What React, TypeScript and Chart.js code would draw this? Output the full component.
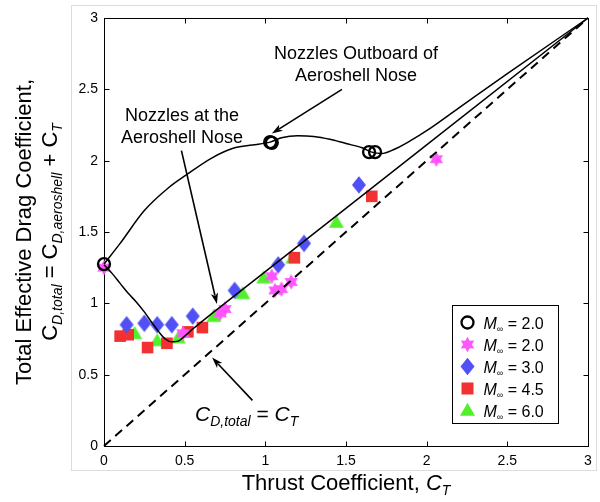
import React, { useEffect, useRef } from "react";
import { Chart, registerables } from "chart.js";

Chart.register(...registerables);

const FONT = "Arial, 'Liberation Sans', Helvetica, sans-serif";

// ---------------- data ----------------
const tickValues = [0, 0.5, 1, 1.5, 2, 2.5, 3];

// M = 2.0, nozzles outboard (open black circles)
const circleX = [0, 1.03, 1.04, 1.643, 1.68];
const circleY = [1.275, 2.13, 2.125, 2.06, 2.06];
// M = 2.0 (magenta hexagrams)
const starX = [0, 0.49, 0.72, 0.75, 1.04, 1.06, 1.1, 1.16, 2.06];
const starY = [1.25, 0.79, 0.93, 0.96, 1.19, 1.09, 1.1, 1.15, 2.01];
// M = 3.0 (blue diamonds)
const diamondX = [0.14, 0.25, 0.33, 0.42, 0.55, 0.81, 1.08, 1.24, 1.58];
const diamondY = [0.85, 0.86, 0.85, 0.85, 0.91, 1.09, 1.27, 1.42, 1.83];
// M = 4.5 (red squares)
const squareX = [0.1, 0.15, 0.27, 0.39, 0.52, 0.61, 1.18, 1.66];
const squareY = [0.77, 0.78, 0.69, 0.72, 0.8, 0.83, 1.32, 1.75];
// M = 6.0 (green triangles)
const triangleX = [0.19, 0.33, 0.46, 0.68, 0.86, 0.99, 1.17, 1.44];
const triangleY = [0.79, 0.74, 0.76, 0.91, 1.07, 1.18, 1.32, 1.57];

// curve: nozzles outboard of aeroshell nose
const outboardX = [0, 0.1, 0.25, 0.4, 0.51, 0.67, 0.81, 0.92, 1.03, 1.1, 1.2, 1.3, 1.4, 1.5, 1.6, 1.66, 1.72, 1.8, 1.9, 2.0, 2.2, 2.5, 3.0];
const outboardY = [1.275, 1.42, 1.65, 1.81, 1.9, 2.02, 2.09, 2.11, 2.13, 2.16, 2.175, 2.17, 2.15, 2.12, 2.09, 2.06, 2.05, 2.08, 2.14, 2.21, 2.37, 2.61, 3.0];
// curve: nozzles at the aeroshell nose
const noseX = [0, 0.05, 0.1, 0.15, 0.2, 0.25, 0.3, 0.34, 0.38, 0.42, 0.46, 0.5, 0.55, 0.6, 1.0, 2.0, 3.0];
const noseY = [1.27, 1.21, 1.14, 1.07, 1.01, 0.94, 0.86, 0.8, 0.75, 0.73, 0.735, 0.77, 0.82, 0.866, 1.222, 2.111, 3.0];
// C_D,total = C_T
const diagX = [0, 3];
const diagY = [0, 3];

const legendLabels = ["= 2.0", "= 2.0", "= 3.0", "= 4.5", "= 6.0"];

// annotations (data coordinates)
const noteOutboardLines = ["Nozzles Outboard of", "Aeroshell Nose"];
const noteOutboardPos = { x: 1.562, y: [2.713, 2.558] };
const noteNoseLines = ["Nozzles at the", "Aeroshell Nose"];
const noteNosePos = { x: 0.483, y: [2.278, 2.124] };
const noteCtPos = { x: 0.564, y: 0.175 };
const arrowOutboard = [[1.475, 2.5], [1.04, 2.19]];
const arrowNose = [[0.48, 2.07], [0.7, 0.995]];
const arrowCt = [[0.92, 0.32], [0.67, 0.62]];

// colours
const MAGENTA = "#ff55ff";
const BLUE = "#5050f5";
const RED = "#f23232";
const GREEN = "#52f02a";

const pts = (xs: number[], ys: number[]) => xs.map((x, i) => ({ x, y: ys[i] }));

type Seg = { t: string; size: number; italic?: boolean; dy?: number };
const fontOf = (s: Seg) => `${s.italic ? "italic " : ""}${s.size}px ${FONT}`;
function richWidth(ctx: CanvasRenderingContext2D, segs: Seg[]) {
  let w = 0;
  for (const s of segs) {
    ctx.font = fontOf(s);
    w += ctx.measureText(s.t).width;
  }
  return w;
}
function drawRich(ctx: CanvasRenderingContext2D, segs: Seg[], x: number, y: number) {
  ctx.textAlign = "left";
  ctx.textBaseline = "alphabetic";
  let cx = x;
  for (const s of segs) {
    ctx.font = fontOf(s);
    ctx.fillText(s.t, cx, y + (s.dy || 0));
    cx += ctx.measureText(s.t).width;
  }
}

function hexagramPath(g: CanvasRenderingContext2D, cx: number, cy: number, R: number) {
  const r = R * 0.56;
  g.beginPath();
  for (let i = 0; i < 12; i++) {
    const a = -Math.PI / 2 + (i * Math.PI) / 6;
    const rad = i % 2 === 0 ? R : r;
    const px = cx + Math.cos(a) * rad;
    const py = cy + Math.sin(a) * rad;
    if (i === 0) g.moveTo(px, py);
    else g.lineTo(px, py);
  }
  g.closePath();
}
function diamondPath(g: CanvasRenderingContext2D, cx: number, cy: number, hw: number, hh: number) {
  g.beginPath();
  g.moveTo(cx, cy - hh);
  g.lineTo(cx + hw, cy);
  g.lineTo(cx, cy + hh);
  g.lineTo(cx - hw, cy);
  g.closePath();
}
function trianglePath(g: CanvasRenderingContext2D, cx: number, cy: number, hw: number, h: number) {
  g.beginPath();
  g.moveTo(cx, cy - h * 0.6);
  g.lineTo(cx + hw, cy + h * 0.4);
  g.lineTo(cx - hw, cy + h * 0.4);
  g.closePath();
}
function makeMarker(w: number, h: number, draw: (g: CanvasRenderingContext2D) => void) {
  const c = document.createElement("canvas");
  c.width = w;
  c.height = h;
  const g = c.getContext("2d")!;
  draw(g);
  return c;
}

function drawArrow(ctx: CanvasRenderingContext2D, x1: number, y1: number, x2: number, y2: number) {
  const ang = Math.atan2(y2 - y1, x2 - x1);
  const len = 11;
  const hw = 3.6;
  ctx.save();
  ctx.strokeStyle = "#000";
  ctx.fillStyle = "#000";
  ctx.lineWidth = 1.6;
  ctx.beginPath();
  ctx.moveTo(x1, y1);
  ctx.lineTo(x2 - Math.cos(ang) * len * 0.8, y2 - Math.sin(ang) * len * 0.8);
  ctx.stroke();
  ctx.beginPath();
  ctx.moveTo(x2, y2);
  ctx.lineTo(x2 - Math.cos(ang) * len - Math.sin(ang) * hw, y2 - Math.sin(ang) * len + Math.cos(ang) * hw);
  ctx.lineTo(x2 - Math.cos(ang) * len * 0.75, y2 - Math.sin(ang) * len * 0.75);
  ctx.lineTo(x2 - Math.cos(ang) * len + Math.sin(ang) * hw, y2 - Math.sin(ang) * len - Math.cos(ang) * hw);
  ctx.closePath();
  ctx.fill();
  ctx.restore();
}

const decor = {
  id: "decor",
  beforeDraw(chart: any) {
    const ctx: CanvasRenderingContext2D = chart.ctx;
    ctx.save();
    ctx.fillStyle = "#fff";
    ctx.fillRect(0, 0, chart.width, chart.height);
    ctx.strokeStyle = "#dcdcdc";
    ctx.lineWidth = 1;
    ctx.strokeRect(71.5, 5.5, 525, 465);
    ctx.restore();
  },
  beforeDatasetsDraw(chart: any) {
    const ctx: CanvasRenderingContext2D = chart.ctx;
    const { left, right, top, bottom } = chart.chartArea;
    const xs = chart.scales.x;
    const ys = chart.scales.y;
    ctx.save();
    ctx.strokeStyle = "#000";
    ctx.lineWidth = 1;
    const L = Math.round(left) + 0.5;
    const R = Math.round(right) + 0.5;
    const T = Math.round(top) + 0.5;
    const B = Math.round(bottom) + 0.5;
    ctx.strokeRect(L, T, R - L, B - T);
    ctx.beginPath();
    for (const v of tickValues) {
      const px = Math.round(xs.getPixelForValue(v)) + 0.5;
      ctx.moveTo(px, B);
      ctx.lineTo(px, B - 5);
      ctx.moveTo(px, T);
      ctx.lineTo(px, T + 5);
      const py = Math.round(ys.getPixelForValue(v)) + 0.5;
      ctx.moveTo(L, py);
      ctx.lineTo(L + 5, py);
      ctx.moveTo(R, py);
      ctx.lineTo(R - 5, py);
    }
    ctx.stroke();
    ctx.restore();
  },
  afterDraw(chart: any) {
    const ctx: CanvasRenderingContext2D = chart.ctx;
    const { left, right, top, bottom } = chart.chartArea;
    const xs = chart.scales.x;
    const ys = chart.scales.y;
    const X = (v: number) => xs.getPixelForValue(v);
    const Y = (v: number) => ys.getPixelForValue(v);
    ctx.save();
    ctx.fillStyle = "#000";

    // x axis title
    const xt: Seg[] = [
      { t: "Thrust Coefficient, ", size: 22 },
      { t: "C", size: 22, italic: true },
      { t: "T", size: 14, italic: true, dy: 5 },
    ];
    const xtw = richWidth(ctx, xt);
    drawRich(ctx, xt, (left + right) / 2 - xtw / 2, 490);

    // y axis title (two lines, rotated)
    const cy = (top + bottom) / 2;
    const y1: Seg[] = [{ t: "Total Effective Drag Coefficient,", size: 22 }];
    const y2: Seg[] = [
      { t: "C", size: 22 },
      { t: "D,total", size: 14, italic: true, dy: 5 },
      { t: " = C", size: 22 },
      { t: "D,aeroshell", size: 14, italic: true, dy: 5 },
      { t: " + C", size: 22 },
      { t: "T", size: 14, italic: true, dy: 5 },
    ];
    for (const [segs, bx] of [[y1, 31], [y2, 57]] as [Seg[], number][]) {
      const w = richWidth(ctx, segs);
      ctx.save();
      ctx.translate(bx, cy);
      ctx.rotate(-Math.PI / 2);
      drawRich(ctx, segs, -w / 2, 0);
      ctx.restore();
    }

    // annotations
    ctx.font = `18px ${FONT}`;
    ctx.textAlign = "center";
    ctx.textBaseline = "alphabetic";
    noteOutboardLines.forEach((t, i) => ctx.fillText(t, X(noteOutboardPos.x), Y(noteOutboardPos.y[i])));
    noteNoseLines.forEach((t, i) => ctx.fillText(t, X(noteNosePos.x), Y(noteNosePos.y[i])));
    const ct: Seg[] = [
      { t: "C", size: 21, italic: true },
      { t: "D,total", size: 14, italic: true, dy: 5 },
      { t: " = ", size: 21 },
      { t: "C", size: 21, italic: true },
      { t: "T", size: 14, italic: true, dy: 5 },
    ];
    drawRich(ctx, ct, X(noteCtPos.x), Y(noteCtPos.y));
    for (const a of [arrowOutboard, arrowNose, arrowCt]) {
      drawArrow(ctx, X(a[0][0]), Y(a[0][1]), X(a[1][0]), Y(a[1][1]));
    }

    // legend
    const bw = 106;
    const bh = 118;
    const bx = Math.round(right) - 30 - bw + 0.5;
    const by = Math.round(bottom) - 23 - bh + 0.5;
    ctx.fillStyle = "#fff";
    ctx.fillRect(bx, by, bw, bh);
    ctx.strokeStyle = "#000";
    ctx.lineWidth = 1;
    ctx.strokeRect(bx, by, bw, bh);
    const rowH = 22;
    for (let i = 0; i < 5; i++) {
      const my = by + 17 + i * rowH;
      const mx = bx + 15;
      ctx.save();
      if (i === 0) {
        ctx.strokeStyle = "#000";
        ctx.lineWidth = 2.3;
        ctx.beginPath();
        ctx.arc(mx, my, 6, 0, Math.PI * 2);
        ctx.stroke();
      } else if (i === 1) {
        ctx.fillStyle = MAGENTA;
        hexagramPath(ctx, mx, my, 7.8);
        ctx.fill();
      } else if (i === 2) {
        ctx.fillStyle = BLUE;
        diamondPath(ctx, mx, my, 7, 8.8);
        ctx.fill();
      } else if (i === 3) {
        ctx.fillStyle = RED;
        ctx.fillRect(mx - 6, my - 6, 12, 12);
      } else {
        ctx.fillStyle = GREEN;
        trianglePath(ctx, mx, my, 7.5, 13);
        ctx.fill();
      }
      ctx.restore();
      ctx.fillStyle = "#000";
      drawRich(
        ctx,
        [
          { t: "M", size: 16, italic: true },
          { t: "\u221e", size: 9, dy: 3 },
          { t: " " + legendLabels[i], size: 16 },
        ],
        bx + 31,
        my + 6
      );
    }
    ctx.restore();
  },
};

export default function App() {
  const ref = useRef<HTMLCanvasElement>(null);
  useEffect(() => {
    const canvas = ref.current!;
    const star = makeMarker(18, 18, (g) => {
      g.fillStyle = MAGENTA;
      hexagramPath(g, 9, 9, 7.8);
      g.fill();
    });
    const diamond = makeMarker(16, 20, (g) => {
      g.fillStyle = BLUE;
      diamondPath(g, 8, 10, 7, 8.8);
      g.fill();
    });
    const triangle = makeMarker(16, 16, (g) => {
      g.fillStyle = GREEN;
      trianglePath(g, 8, 8.5, 7.5, 13);
      g.fill();
    });
    const tickFont = { size: 14, family: FONT };
    const fmt = (v: any) => String(Number(v));
    const chart = new Chart(canvas, {
      type: "scatter",
      data: {
        datasets: [
          {
            label: "outboard",
            data: pts(outboardX, outboardY),
            showLine: true,
            borderColor: "#000",
            borderWidth: 1.5,
            pointRadius: 0,
            cubicInterpolationMode: "monotone",
            clip: false,
          } as any,
          {
            label: "nose",
            data: pts(noseX, noseY),
            showLine: true,
            borderColor: "#000",
            borderWidth: 1.5,
            pointRadius: 0,
            cubicInterpolationMode: "monotone",
            clip: false,
          } as any,
          {
            label: "diag",
            data: pts(diagX, diagY),
            showLine: true,
            borderColor: "#000",
            borderWidth: 2,
            borderDash: [9, 6],
            pointRadius: 0,
            clip: false,
          } as any,
          {
            label: "M2 circles",
            data: pts(circleX, circleY),
            pointStyle: "circle",
            pointRadius: 6,
            borderColor: "#000",
            borderWidth: 2.3,
            backgroundColor: "rgba(0,0,0,0)",
            clip: false,
          } as any,
          {
            label: "M2 stars",
            data: pts(starX, starY),
            pointStyle: star,
            pointRadius: 8,
            clip: false,
          } as any,
          {
            label: "M3",
            data: pts(diamondX, diamondY),
            pointStyle: diamond,
            pointRadius: 8,
            clip: false,
          } as any,
          {
            label: "M4.5",
            data: pts(squareX, squareY),
            pointStyle: "rect",
            pointRadius: 8.2,
            backgroundColor: RED,
            borderWidth: 0,
            clip: false,
          } as any,
          {
            label: "M6",
            data: pts(triangleX, triangleY),
            pointStyle: triangle,
            pointRadius: 8,
            clip: false,
          } as any,
        ],
      },
      options: {
        animation: false,
        responsive: false,
        devicePixelRatio: 1,
        events: [],
        layout: { padding: { left: 0, right: 12, top: 18, bottom: 0 } },
        plugins: { legend: { display: false }, tooltip: { enabled: false } },
        scales: {
          x: {
            type: "linear",
            min: 0,
            max: 3,
            ticks: { stepSize: 0.5, color: "#000", font: tickFont, padding: 7, maxRotation: 0, callback: fmt },
            grid: { display: false, drawTicks: false },
            border: { display: false },
            afterFit(s: any) {
              s.height = 56;
              s.paddingLeft = 0;
              s.paddingRight = 0;
            },
          },
          y: {
            type: "linear",
            min: 0,
            max: 3,
            ticks: { stepSize: 0.5, color: "#000", font: tickFont, padding: 6, callback: fmt },
            grid: { display: false, drawTicks: false },
            border: { display: false },
            afterFit(s: any) {
              s.width = 104;
              s.paddingTop = 0;
              s.paddingBottom = 0;
            },
          },
        },
      } as any,
      plugins: [decor],
    });
    return () => chart.destroy();
  }, []);
  return (
    <div style={{ position: "fixed", left: 0, top: 0, width: 600, height: 502, background: "#fff" }}>
      <canvas ref={ref} width={600} height={502} style={{ width: 600, height: 502, display: "block" }} />
    </div>
  );
}
